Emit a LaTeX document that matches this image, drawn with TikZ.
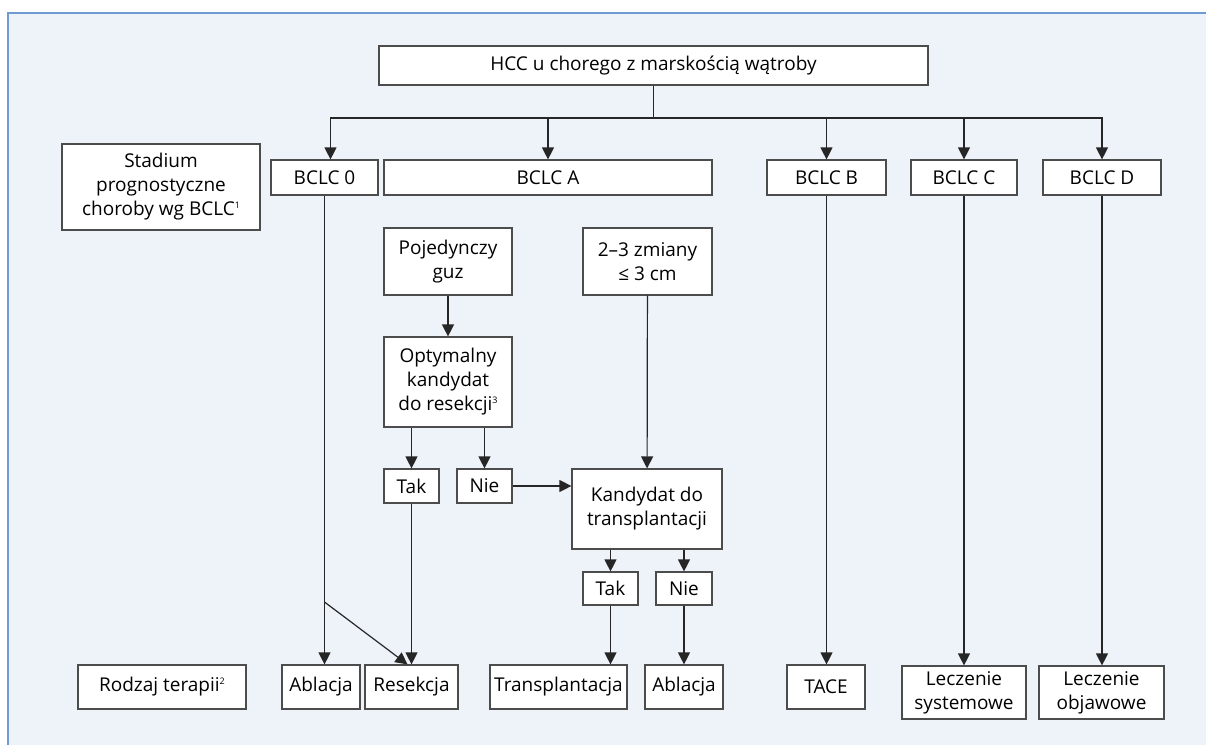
\documentclass[tikz,border=0pt]{standalone}
\usepackage{fontspec}
\setmainfont{Open Sans}
\usepackage{xcolor}
\usepackage{tikz}
\usetikzlibrary{shapes,arrows.meta}
\definecolor{panelfill}{HTML}{EEF2F9}
\definecolor{panelline}{HTML}{6E9BD3}
\newcommand{\fnmark}[1]{\raisebox{0.75ex}{\fontsize{4.5}{5}\selectfont #1}}
\tikzstyle{box} = [rectangle, draw=black!70, fill=white, align=center, inner sep=0pt, line width=0.6pt, font=\fontsize{9.5}{12}\selectfont]
\tikzstyle{arrow} = [draw=black!85, line width=0.6pt, -{Triangle[width=6pt,length=6pt]}]
\tikzstyle{line} = [draw=black!85, line width=0.6pt]

\begin{document}
\begin{tikzpicture}[x=0.5pt,y=-0.5pt]
\useasboundingbox (0,0) rectangle (1206,745);
\fill[panelfill] (8,13) rectangle (1206,745);
\draw[panelline, line width=0.6pt] (8,745) -- (8,13) -- (1206,13);

\node (hcc) [box, minimum width=274.5pt, minimum height=19.5pt] at (653.5,65.5) {HCC u chorego z marskością wątroby};
\node (stadium) [box, minimum width=99pt, minimum height=43pt] at (161,187) {Stadium\\prognostyczne\\choroby wg BCLC\fnmark{1}};
\node (bclc0) [box, minimum width=53.5pt, minimum height=17.5pt] at (324.5,177.5) {BCLC 0};
\node (bclcA) [box, minimum width=164pt, minimum height=17.5pt] at (548,177.5) {BCLC A};
\node (bclcB) [box, minimum width=59.5pt, minimum height=17.5pt] at (826.5,177.5) {BCLC B};
\node (bclcC) [box, minimum width=53pt, minimum height=17.5pt] at (964,177.5) {BCLC C};
\node (bclcD) [box, minimum width=59pt, minimum height=17.5pt] at (1102,177.5) {BCLC D};
\node (guz) [box, minimum width=64pt, minimum height=33.5pt] at (448,261.5) {Pojedynczy\\guz};
\node (zmiany) [box, minimum width=64.5pt, minimum height=33.5pt] at (647.5,261.5) {2–3 zmiany\\≤ 3 cm};
\node (optym) [box, minimum width=64pt, minimum height=45pt] at (448,382) {Optymalny\\kandydat\\do resekcji\fnmark{3}};
\node (tak1) [box, minimum width=27.5pt, minimum height=17pt] at (411.5,486) {Tak};
\node (nie1) [box, minimum width=27.5pt, minimum height=17pt] at (484.5,486) {Nie};
\node (kand) [box, minimum width=75pt, minimum height=40pt] at (647,509) {Kandydat do\\transplantacji};
\node (tak2) [box, minimum width=27.5pt, minimum height=16.5pt] at (610.5,588.5) {Tak};
\node (nie2) [box, minimum width=28pt, minimum height=16.5pt] at (684,588.5) {Nie};
\node (rodzaj) [box, minimum width=84pt, minimum height=22pt] at (162,687) {Rodzaj terapii\fnmark{2}};
\node (abl1) [box, minimum width=39pt, minimum height=22pt] at (321,687) {Ablacja};
\node (resek) [box, minimum width=46.5pt, minimum height=22pt] at (411.5,687) {Resekcja};
\node (transp) [box, minimum width=68.5pt, minimum height=22pt] at (558.5,687) {Transplantacja};
\node (abl2) [box, minimum width=39pt, minimum height=22pt] at (684,687) {Ablacja};
\node (tace) [box, minimum width=39pt, minimum height=22pt] at (826,687) {TACE};
\node (lsys) [box, minimum width=62pt, minimum height=26.5pt] at (964,692.5) {Leczenie\\systemowe};
\node (lobj) [box, minimum width=62.5pt, minimum height=26.5pt] at (1101.5,692.5) {Leczenie\\objawowe};

\coordinate (split) at (653.5,118);
\coordinate (cross) at (324.5,602);

\draw [line] (hcc) -- (split);
\draw [arrow] (split) -| ([xshift=3pt]bclc0.north);
\draw [arrow] (split) -| (bclcA);
\draw [arrow] (split) -| (bclcB);
\draw [arrow] (split) -| (bclcC);
\draw [arrow] (split) -| (bclcD);
\draw [arrow] (bclc0) -- (bclc0 |- abl1.north);
\draw [arrow] (cross) -- ([xshift=-2pt]resek.north);
\draw [arrow] (guz) -- (optym);
\draw [arrow] (optym.south -| tak1) -- (tak1);
\draw [arrow] (optym.south -| nie1) -- (nie1);
\draw [arrow] (nie1.east) -- (nie1.east -| kand.west);
\draw [arrow] (zmiany) -- (kand);
\draw [arrow] (tak1) -- (tak1 |- resek.north);
\draw [arrow] (kand.south -| tak2) -- (tak2);
\draw [arrow] (kand.south -| nie2) -- (nie2);
\draw [arrow] (tak2) -- (tak2 |- transp.north);
\draw [arrow] (nie2) -- (nie2 |- abl2.north);
\draw [arrow] (bclcB) -- (bclcB |- tace.north);
\draw [arrow] (bclcC) -- (bclcC |- lsys.north);
\draw [arrow] (bclcD) -- (bclcD |- lobj.north);
\end{tikzpicture}
\end{document}
